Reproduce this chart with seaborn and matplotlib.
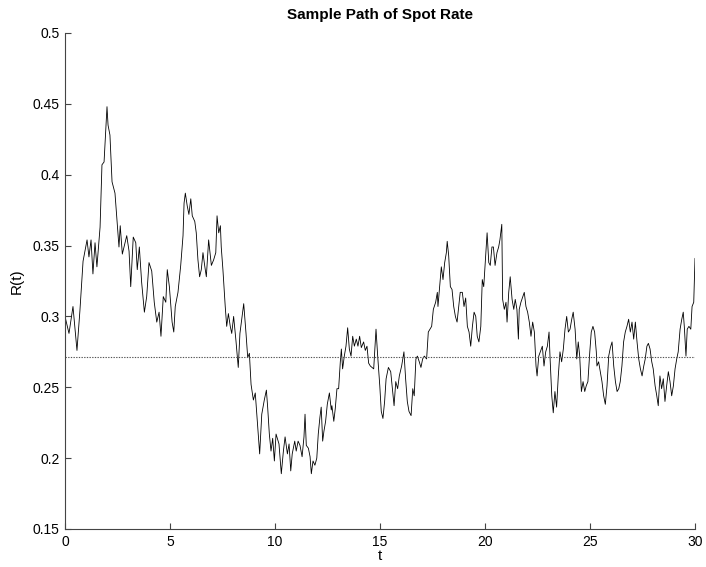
import numpy as np
import pandas as pd
import matplotlib
matplotlib.use("Agg")
import matplotlib.pyplot as plt
import seaborn as sns

# Sample path of the short (spot) rate, sampled along time t
t = [0.00, 0.19, 0.38, 0.57, 0.71, 0.86, 1.05, 1.14, 1.24, 1.33, 1.43, 1.52, 1.67, 1.76, 1.86, 2.00, 2.05, 2.14, 2.24, 2.33, 2.38,
     2.51, 2.57, 2.63, 2.73, 2.94, 3.05, 3.13, 3.25, 3.37, 3.44, 3.54, 3.65, 3.78, 3.89, 4.00, 4.13, 4.25, 4.37, 4.48, 4.57, 4.68, 4.80, 4.87, 4.97,
     5.10, 5.18, 5.25, 5.38, 5.51, 5.62, 5.67, 5.73, 5.82, 5.90, 5.99, 6.06, 6.18, 6.25, 6.33, 6.41, 6.49, 6.57, 6.65, 6.73, 6.84, 6.97, 7.08, 7.18, 7.24, 7.32, 7.40, 7.44, 7.52, 7.63,
     7.70, 7.78, 7.87, 7.94, 8.03, 8.14, 8.25, 8.33, 8.43, 8.51, 8.62, 8.70, 8.78, 8.86, 8.97, 9.06, 9.18, 9.27, 9.37, 9.49, 9.59, 9.65, 9.73, 9.81, 9.89, 9.97, 10.05,
     10.19, 10.30, 10.40, 10.48, 10.59, 10.67, 10.75, 10.82, 10.94, 11.01, 11.10, 11.19, 11.29, 11.38, 11.43, 11.49, 11.59, 11.67, 11.73, 11.81, 11.90, 11.99, 12.06, 12.14, 12.20, 12.27, 12.33, 12.41, 12.49, 12.59, 12.68,
     12.71, 12.80, 12.87, 12.95, 13.03, 13.11, 13.16, 13.22, 13.30, 13.38, 13.46, 13.54, 13.62, 13.70, 13.78, 13.87, 13.95, 14.03, 14.11, 14.22, 14.30, 14.38, 14.46, 14.54, 14.62, 14.70, 14.81, 14.89, 14.99, 15.06, 15.14, 15.22,
     15.29, 15.40, 15.51, 15.59, 15.67, 15.75, 15.84, 15.92, 16.03, 16.14, 16.22, 16.30, 16.38, 16.48, 16.56, 16.63, 16.71, 16.78, 16.87, 16.95, 17.03, 17.11, 17.22, 17.30, 17.38, 17.46, 17.54, 17.65, 17.73,
     17.76, 17.84, 17.92, 18.00, 18.08, 18.16, 18.20, 18.27, 18.35, 18.43, 18.51, 18.59, 18.67, 18.75, 18.82, 18.92, 19.00, 19.08, 19.16, 19.24, 19.32, 19.40, 19.48, 19.56, 19.63, 19.71, 19.80, 19.87, 19.94, 20.01, 20.10, 20.18, 20.25,
     20.33, 20.40, 20.48, 20.57, 20.65, 20.71, 20.80, 20.84, 20.92, 21.00, 21.05, 21.13, 21.20, 21.29, 21.37, 21.44, 21.52, 21.59, 21.63, 21.71, 21.80, 21.87, 21.95, 22.03, 22.11, 22.19, 22.27, 22.35, 22.43, 22.48, 22.56,
     22.73, 22.81, 22.89, 22.97, 23.05, 23.10, 23.18, 23.25, 23.33, 23.41, 23.49, 23.57, 23.65, 23.73, 23.81, 23.89, 23.97, 24.05, 24.13, 24.20, 24.29, 24.37, 24.44, 24.51, 24.59, 24.67, 24.75, 24.82, 24.90, 24.99, 25.06, 25.14, 25.22, 25.30,
     25.33, 25.41, 25.49, 25.57, 25.65, 25.73, 25.81, 25.89, 25.97, 26.05, 26.13, 26.21, 26.29, 26.37, 26.44, 26.52, 26.60, 26.68, 26.76, 26.84, 26.92, 27.00, 27.08, 27.16, 27.24, 27.32, 27.40, 27.48, 27.56, 27.63, 27.71,
     27.78, 27.86, 27.94, 28.01, 28.10, 28.18, 28.25, 28.33, 28.41, 28.49, 28.57, 28.65, 28.73, 28.81, 28.89, 28.97, 29.05, 29.13, 29.20, 29.29, 29.37, 29.44, 29.49, 29.57, 29.63, 29.71, 29.80, 29.86, 29.94, 30.00]

rate = [0.300, 0.288, 0.307, 0.276, 0.304, 0.339, 0.354, 0.342, 0.354, 0.330, 0.352, 0.335, 0.363, 0.407, 0.409, 0.448, 0.435, 0.428, 0.395, 0.390, 0.387,
        0.361, 0.349, 0.364, 0.344, 0.357, 0.346, 0.321, 0.356, 0.352, 0.333, 0.349, 0.324, 0.303, 0.314, 0.338, 0.332, 0.310, 0.296, 0.303, 0.286, 0.314, 0.310, 0.333, 0.321,
        0.296, 0.289, 0.307, 0.317, 0.336, 0.357, 0.380, 0.387, 0.378, 0.372, 0.383, 0.371, 0.367, 0.359, 0.340, 0.328, 0.333, 0.345, 0.336, 0.328, 0.354, 0.336, 0.340, 0.345, 0.371, 0.359, 0.364, 0.349, 0.333, 0.307,
        0.293, 0.302, 0.293, 0.288, 0.300, 0.283, 0.264, 0.288, 0.300, 0.309, 0.288, 0.271, 0.274, 0.252, 0.241, 0.246, 0.222, 0.203, 0.231, 0.241, 0.248, 0.236, 0.217, 0.205, 0.214, 0.198, 0.217,
        0.210, 0.189, 0.205, 0.215, 0.203, 0.210, 0.191, 0.203, 0.212, 0.205, 0.212, 0.209, 0.201, 0.215, 0.231, 0.209, 0.207, 0.201, 0.189, 0.198, 0.195, 0.200, 0.217, 0.229, 0.236, 0.212, 0.219, 0.226, 0.238, 0.246, 0.234,
        0.237, 0.226, 0.235, 0.249, 0.249, 0.268, 0.277, 0.263, 0.272, 0.279, 0.292, 0.277, 0.272, 0.286, 0.279, 0.284, 0.279, 0.286, 0.278, 0.282, 0.276, 0.279, 0.267, 0.265, 0.264, 0.263, 0.291, 0.272, 0.251, 0.233, 0.228, 0.240,
        0.256, 0.264, 0.261, 0.249, 0.237, 0.254, 0.249, 0.258, 0.265, 0.275, 0.256, 0.240, 0.233, 0.230, 0.249, 0.244, 0.270, 0.272, 0.268, 0.264, 0.270, 0.272, 0.270, 0.289, 0.291, 0.293, 0.305, 0.310, 0.317,
        0.307, 0.321, 0.335, 0.326, 0.338, 0.345, 0.353, 0.343, 0.321, 0.319, 0.307, 0.300, 0.296, 0.307, 0.317, 0.317, 0.307, 0.313, 0.293, 0.289, 0.279, 0.293, 0.303, 0.300, 0.286, 0.282, 0.293, 0.326, 0.321, 0.338, 0.359, 0.338, 0.336,
        0.349, 0.349, 0.336, 0.345, 0.349, 0.354, 0.365, 0.312, 0.305, 0.310, 0.296, 0.317, 0.328, 0.312, 0.305, 0.312, 0.305, 0.284, 0.305, 0.310, 0.314, 0.317, 0.307, 0.303, 0.296, 0.286, 0.296, 0.289, 0.265, 0.258, 0.272,
        0.279, 0.265, 0.275, 0.279, 0.289, 0.270, 0.244, 0.232, 0.247, 0.236, 0.258, 0.275, 0.268, 0.277, 0.291, 0.300, 0.289, 0.291, 0.298, 0.303, 0.291, 0.270, 0.282, 0.272, 0.247, 0.254, 0.247, 0.251, 0.254, 0.275, 0.289, 0.293, 0.289, 0.275,
        0.265, 0.268, 0.261, 0.254, 0.244, 0.238, 0.251, 0.272, 0.278, 0.282, 0.265, 0.254, 0.247, 0.249, 0.254, 0.265, 0.282, 0.289, 0.293, 0.298, 0.289, 0.296, 0.284, 0.296, 0.282, 0.270, 0.263, 0.258, 0.265, 0.270, 0.279,
        0.281, 0.277, 0.268, 0.263, 0.251, 0.244, 0.237, 0.258, 0.249, 0.256, 0.240, 0.251, 0.261, 0.254, 0.244, 0.251, 0.263, 0.270, 0.275, 0.291, 0.298, 0.303, 0.293, 0.272, 0.291, 0.293, 0.291, 0.307, 0.310, 0.341]

# Long-run mean level of the rate
long_run_mean = 0.2715

x_ticks = [0, 5, 10, 15, 20, 25, 30]
y_ticks = [0.15, 0.2, 0.25, 0.3, 0.35, 0.4, 0.45, 0.5]
y_tick_labels = ["0.15", "0.2", "0.25", "0.3", "0.35", "0.4", "0.45", "0.5"]

sns.set_style("white")
plt.rcParams["font.family"] = ["Liberation Sans", "DejaVu Sans"]
plt.rcParams["xtick.direction"] = "in"
plt.rcParams["ytick.direction"] = "in"
plt.rcParams["text.color"] = "black"
plt.rcParams["axes.labelcolor"] = "black"
plt.rcParams["xtick.color"] = "black"
plt.rcParams["ytick.color"] = "black"

df = pd.DataFrame({"t": t, "R": rate})

fig = plt.figure(figsize=(7.06, 5.67), dpi=100)
ax = fig.add_axes([65 / 706, 38 / 567, 630 / 706, 496 / 567])

sns.lineplot(data=df, x="t", y="R", ax=ax, color="black", linewidth=0.6)
ax.axhline(long_run_mean, color="#555555", linestyle=(0, (1.2, 1.2)), linewidth=0.8)

ax.set_xlim(0, 30)
ax.set_ylim(0.15, 0.5)
ax.set_xticks(x_ticks)
ax.set_yticks(y_ticks)
ax.set_yticklabels(y_tick_labels)
ax.tick_params(axis="both", which="major", bottom=True, left=True, top=False, right=False,
               direction="in", labelsize=10, length=4, width=0.8,
               color="#444444", labelcolor="black", pad=4)

for side in ["top", "right"]:
    ax.spines[side].set_visible(False)
for side in ["left", "bottom"]:
    ax.spines[side].set_color("#444444")
    ax.spines[side].set_linewidth(0.8)

ax.set_xlabel("t", fontsize=11, labelpad=0, color="black")
ax.set_ylabel("R(t)", fontsize=11, labelpad=6, color="black")
ax.set_title("Sample Path of Spot Rate", fontsize=11, fontweight="bold", pad=10, color="black")

fig.savefig("out.png", dpi=100)
